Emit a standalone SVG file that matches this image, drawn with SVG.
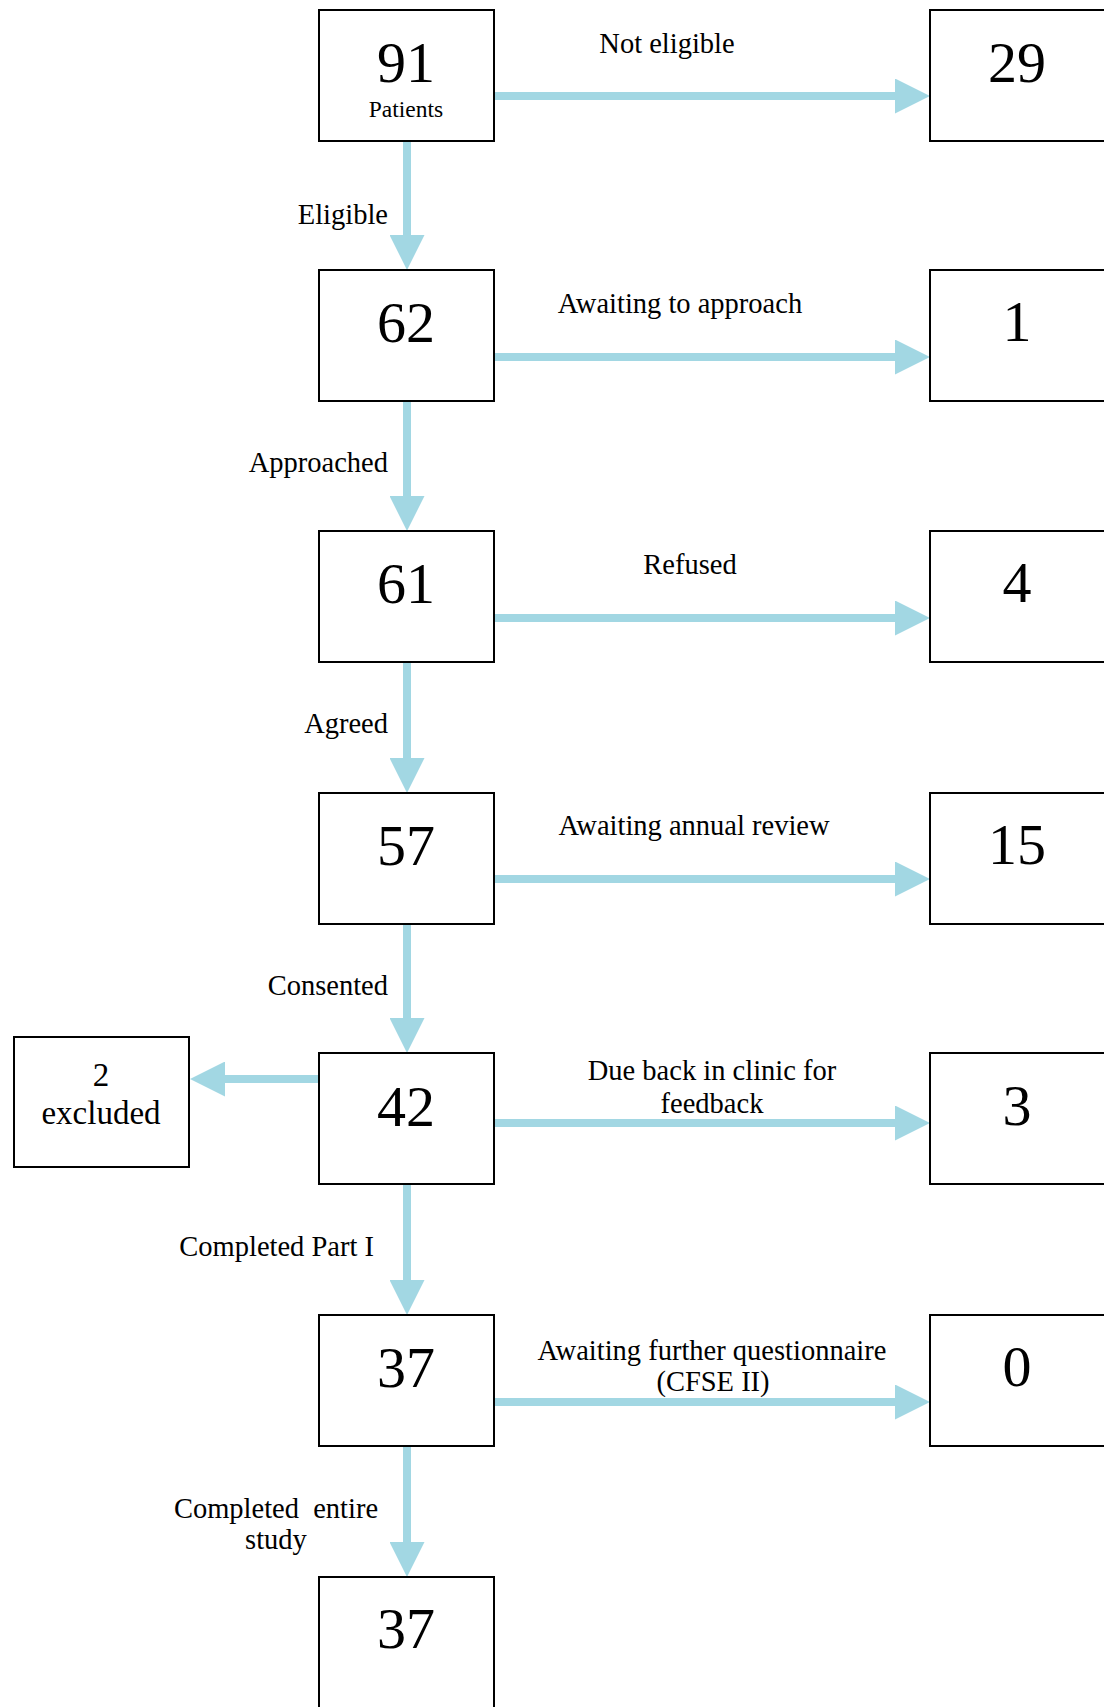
<svg xmlns="http://www.w3.org/2000/svg" width="1104" height="1707" viewBox="0 0 1104 1707">
<style>
.box{fill:#fff;stroke:#000;stroke-width:2}
.num{font-family:"Liberation Serif","Times New Roman",serif;font-size:58px;text-anchor:middle;fill:#000}
.lbl{font-family:"Liberation Serif","Times New Roman",serif;font-size:28.5px;fill:#000}
.mid{text-anchor:middle}
.end{text-anchor:end}
.arr{stroke:#a2d7e3;stroke-width:8;fill:none;marker-end:url(#ah)}
</style>
<defs>
<marker id="ah" markerUnits="userSpaceOnUse" markerWidth="35" markerHeight="35" viewBox="0 0 35 35" refX="0" refY="17.5" orient="auto">
<path d="M0,0 L35,17.5 L0,35 Z" fill="#a2d7e3"/>
</marker>
</defs>
<rect width="1104" height="1707" fill="#fff"/>
<g id="connectors">
<line class="arr" x1="407" y1="141" x2="407" y2="235"/>
<line class="arr" x1="407" y1="401" x2="407" y2="496"/>
<line class="arr" x1="407" y1="662" x2="407" y2="758"/>
<line class="arr" x1="407" y1="924" x2="407" y2="1018"/>
<line class="arr" x1="407" y1="1184" x2="407" y2="1280"/>
<line class="arr" x1="407" y1="1446" x2="407" y2="1542"/>
<line class="arr" x1="494" y1="96" x2="895" y2="96"/>
<line class="arr" x1="494" y1="357" x2="895" y2="357"/>
<line class="arr" x1="494" y1="618" x2="895" y2="618"/>
<line class="arr" x1="494" y1="879" x2="895" y2="879"/>
<line class="arr" x1="494" y1="1123" x2="895" y2="1123"/>
<line class="arr" x1="494" y1="1402" x2="895" y2="1402"/>
<line class="arr" x1="319" y1="1079" x2="225" y2="1079"/>
<text class="lbl end" x="388" y="224">Eligible</text>
<text class="lbl end" x="388" y="472">Approached</text>
<text class="lbl end" x="388" y="733">Agreed</text>
<text class="lbl end" x="388" y="995">Consented</text>
<text class="lbl end" x="374" y="1256">Completed Part I</text>
<text class="lbl mid" x="276" y="1518" xml:space="preserve">Completed  entire</text>
<text class="lbl mid" x="276" y="1549">study</text>
<text class="lbl mid" x="667" y="53">Not eligible</text>
<text class="lbl mid" x="680" y="313">Awaiting to approach</text>
<text class="lbl mid" x="690" y="574">Refused</text>
<text class="lbl mid" x="694" y="835">Awaiting annual review</text>
<text class="lbl mid" x="712" y="1080">Due back in clinic for</text>
<text class="lbl mid" x="712" y="1113">feedback</text>
<text class="lbl mid" x="712" y="1360">Awaiting further questionnaire</text>
<text class="lbl mid" x="713" y="1391">(CFSE II)</text>
</g>
<g id="n91"><rect class="box" x="319" y="10" width="175" height="131"/><text class="num" x="406" y="82">91</text><text x="406" y="117" font-family="Liberation Serif, Times New Roman, serif" font-size="23.5" text-anchor="middle">Patients</text></g>
<g id="n62"><rect class="box" x="319" y="270" width="175" height="131"/><text class="num" x="406" y="342">62</text></g>
<g id="n61"><rect class="box" x="319" y="531" width="175" height="131"/><text class="num" x="406" y="603">61</text></g>
<g id="n57"><rect class="box" x="319" y="793" width="175" height="131"/><text class="num" x="406" y="865">57</text></g>
<g id="n42"><rect class="box" x="319" y="1053" width="175" height="131"/><text class="num" x="406" y="1126">42</text></g>
<g id="n37a"><rect class="box" x="319" y="1315" width="175" height="131"/><text class="num" x="406" y="1387">37</text></g>
<g id="n37b"><rect class="box" x="319" y="1577" width="175" height="131"/><text class="num" x="406" y="1648">37</text></g>
<g id="r29"><rect class="box" x="930" y="10" width="175" height="131"/><text class="num" x="1017" y="82">29</text></g>
<g id="r1"><rect class="box" x="930" y="270" width="175" height="131"/><text class="num" x="1017" y="341">1</text></g>
<g id="r4"><rect class="box" x="930" y="531" width="175" height="131"/><text class="num" x="1017" y="602">4</text></g>
<g id="r15"><rect class="box" x="930" y="793" width="175" height="131"/><text class="num" x="1017" y="864">15</text></g>
<g id="r3"><rect class="box" x="930" y="1053" width="175" height="131"/><text class="num" x="1017" y="1125">3</text></g>
<g id="r0"><rect class="box" x="930" y="1315" width="175" height="131"/><text class="num" x="1017" y="1386">0</text></g>
<g id="excl"><rect class="box" x="14" y="1037" width="175" height="130"/><text x="101" y="1086" font-family="Liberation Serif, Times New Roman, serif" font-size="33" text-anchor="middle">2</text><text x="101" y="1124" font-family="Liberation Serif, Times New Roman, serif" font-size="33" text-anchor="middle">excluded</text></g>
</svg>
